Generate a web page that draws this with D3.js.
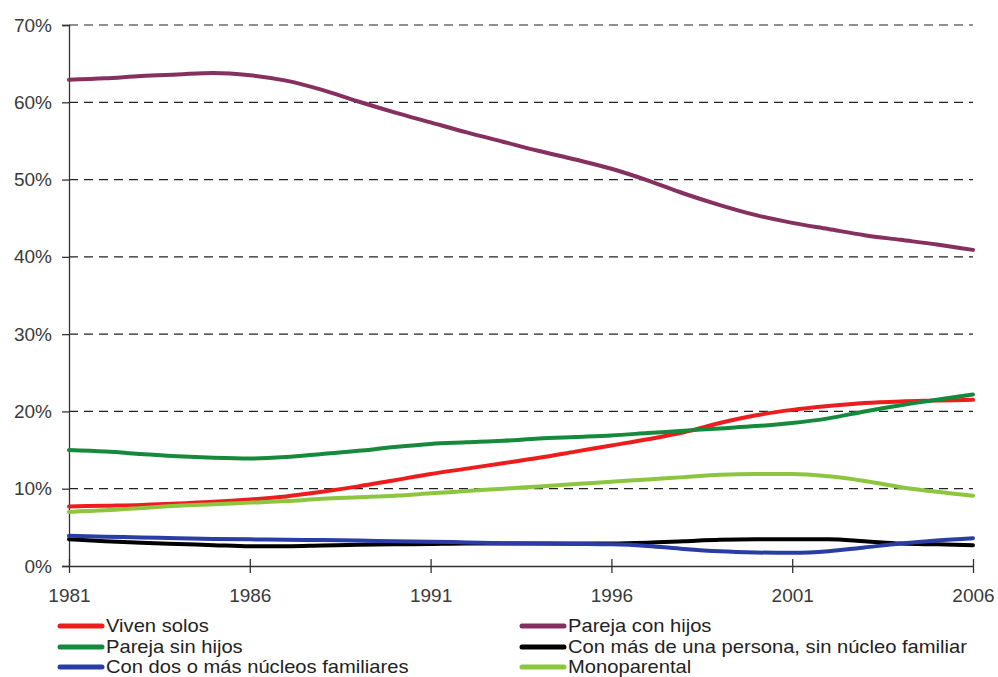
<!DOCTYPE html>
<html>
<head>
<meta charset="utf-8">
<script src="https://cdn.jsdelivr.net/npm/d3@7"></script>
<style>
  html, body { margin: 0; padding: 0; background: #fff; }
  svg { display: block; font-family: "Liberation Sans", Arial, sans-serif; }
</style>
</head>
<body>
<svg id="chart" width="998" height="677"></svg>
<script>
// Years of the series (annual points between the census years)
const years = d3.range(1981, 2007);

// Share of households by type, in %
const vivenSolos = [7.7, 7.8, 7.9, 8.1, 8.3, 8.6, 9.0, 9.6, 10.3, 11.1, 11.9, 12.6, 13.3, 14.0, 14.8, 15.6, 16.4, 17.3, 18.5, 19.5, 20.2, 20.7, 21.1, 21.3, 21.4, 21.5];
const parejaConHijos = [62.9, 63.1, 63.4, 63.6, 63.8, 63.5, 62.8, 61.6, 60.1, 58.7, 57.4, 56.1, 54.9, 53.7, 52.6, 51.4, 49.9, 48.2, 46.7, 45.4, 44.4, 43.6, 42.8, 42.2, 41.6, 40.9];
const parejaSinHijos = [15.0, 14.8, 14.5, 14.2, 14.0, 13.9, 14.1, 14.5, 14.9, 15.4, 15.8, 16.0, 16.2, 16.5, 16.7, 16.9, 17.2, 17.5, 17.8, 18.1, 18.5, 19.1, 20.0, 20.8, 21.5, 22.2];
const masDeUnaPersona = [3.45, 3.2, 3.0, 2.85, 2.7, 2.55, 2.55, 2.65, 2.75, 2.8, 2.85, 2.9, 2.9, 2.9, 2.9, 2.9, 3.0, 3.2, 3.4, 3.45, 3.45, 3.45, 3.2, 2.9, 2.8, 2.7];
const dosOMasNucleos = [3.9, 3.8, 3.7, 3.6, 3.5, 3.45, 3.4, 3.35, 3.3, 3.2, 3.15, 3.05, 2.95, 2.9, 2.85, 2.8, 2.6, 2.2, 1.9, 1.75, 1.7, 1.9, 2.4, 2.9, 3.3, 3.6];
const monoparental = [7.0, 7.2, 7.5, 7.8, 8.0, 8.2, 8.4, 8.7, 8.9, 9.1, 9.4, 9.7, 10.0, 10.3, 10.6, 10.9, 11.2, 11.5, 11.8, 11.9, 11.9, 11.6, 11.0, 10.2, 9.6, 9.1];

const xTickYears = [1981, 1986, 1991, 1996, 2001, 2006];
const yTickValues = [0, 10, 20, 30, 40, 50, 60, 70];

// Series in legend order (left column, then right column, row by row)
const series = [
  { name: "Viven solos", values: vivenSolos, color: "#ee1c1c" },
  { name: "Pareja con hijos", values: parejaConHijos, color: "#86305f" },
  { name: "Pareja sin hijos", values: parejaSinHijos, color: "#158a3c" },
  { name: "Con más de una persona, sin núcleo familiar", values: masDeUnaPersona, color: "#000000" },
  { name: "Con dos o más núcleos familiares", values: dosOMasNucleos, color: "#2a3da6" },
  { name: "Monoparental", values: monoparental, color: "#8cc63e" }
];

const svg = d3.select("#chart");
const plotLeft = 69, plotRight = 973, plotTop = 25, plotBottom = 566;

const x = d3.scaleLinear().domain([1981, 2006]).range([plotLeft, plotRight]);
const y = d3.scaleLinear().domain([0, 70]).range([plotBottom, plotTop]);

// Dashed horizontal gridlines
svg.append("g")
  .selectAll("line")
  .data(yTickValues.filter(v => v > 0))
  .join("line")
  .attr("x1", plotLeft).attr("x2", plotRight)
  .attr("y1", d => y(d)).attr("y2", d => y(d))
  .attr("stroke", "#222")
  .attr("stroke-width", 1.2)
  .attr("stroke-dasharray", "9,6");

// Y axis
const yAxis = svg.append("g")
  .attr("transform", `translate(${plotLeft},0)`)
  .call(d3.axisLeft(y).tickValues(yTickValues).tickFormat(d => d + "%").tickSize(7).tickPadding(10));
yAxis.select(".domain").attr("stroke", "#333").attr("stroke-width", 1.3);
yAxis.selectAll(".tick line").attr("stroke", "#333").attr("stroke-width", 1.3);
yAxis.selectAll(".tick text")
  .attr("font-size", 19).attr("fill", "#3a3a3a")
  .attr("font-family", "Liberation Sans, Arial, sans-serif");

// X axis, ticks crossing the baseline
const xAxis = svg.append("g")
  .attr("transform", `translate(0,${plotBottom})`)
  .call(d3.axisBottom(x).tickValues(xTickYears).tickFormat(d3.format("d")).tickSizeInner(7).tickSizeOuter(0).tickPadding(16));
xAxis.select(".domain").attr("stroke", "#333").attr("stroke-width", 1.3);
xAxis.selectAll(".tick line").attr("y1", -7).attr("y2", 7).attr("stroke", "#333").attr("stroke-width", 1.3);
xAxis.selectAll(".tick text")
  .attr("font-size", 19).attr("fill", "#3a3a3a")
  .attr("font-family", "Liberation Sans, Arial, sans-serif");

// Series lines
const line = d3.line()
  .x((d, i) => x(years[i]))
  .y(d => y(d))
  .curve(d3.curveMonotoneX);

svg.append("g")
  .selectAll("path")
  .data(series)
  .join("path")
  .attr("d", s => line(s.values))
  .attr("fill", "none")
  .attr("stroke", s => s.color)
  .attr("stroke-width", 4)
  .attr("stroke-linejoin", "round")
  .attr("stroke-linecap", "round");

// Legend: two columns, three rows; labels set slightly wide
const legend = svg.append("g");
const colX = [60, 522];
const rowY = [626, 647, 667];
const items = legend.selectAll("g")
  .data(series)
  .join("g")
  .attr("transform", (d, i) => `translate(${colX[i % 2]},${rowY[Math.floor(i / 2)]})`);
items.append("line")
  .attr("x1", 0).attr("x2", 42).attr("y1", 0).attr("y2", 0)
  .attr("stroke", d => d.color).attr("stroke-width", 5).attr("stroke-linecap", "round");
items.append("text")
  .attr("transform", "translate(46,0) scale(1.12,1)")
  .attr("dy", "0.36em")
  .attr("font-size", 18).attr("fill", "#222")
  .text(d => d.name);
</script>
</body>
</html>
